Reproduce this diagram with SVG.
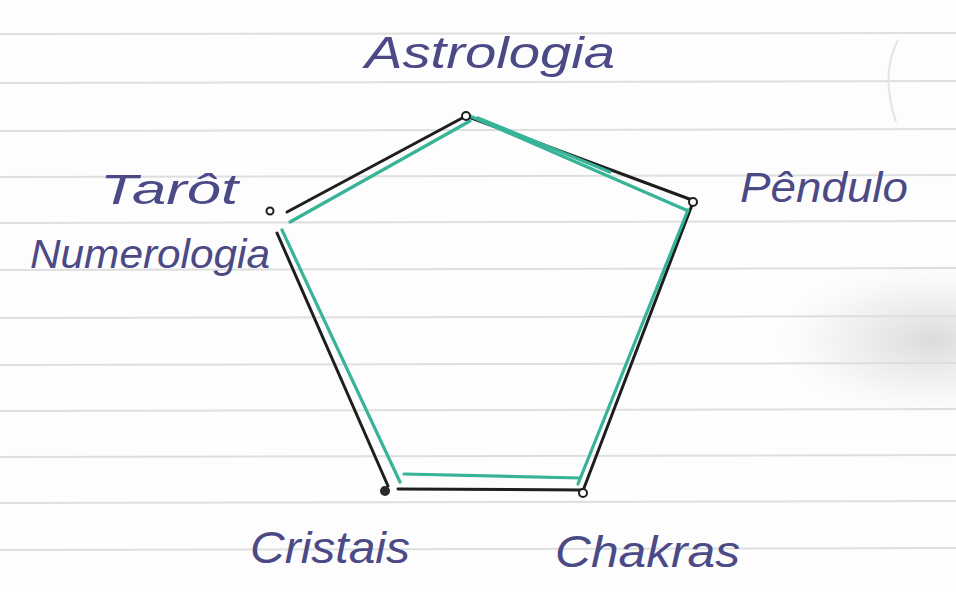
<svg xmlns="http://www.w3.org/2000/svg" width="956" height="592" viewBox="0 0 956 592">
<defs>
<radialGradient id="shade" cx="0.5" cy="0.5" r="0.5">
<stop offset="0" stop-color="#c4c4c4" stop-opacity="0.6"/>
<stop offset="0.6" stop-color="#d8d8d8" stop-opacity="0.3"/>
<stop offset="1" stop-color="#e8e8e8" stop-opacity="0"/>
</radialGradient>
<style>
.rule{stroke:#dedede;stroke-width:2}
.lbl{font-family:"Liberation Sans","DejaVu Sans",sans-serif;fill:#4b4a86;font-style:italic}
.blk{stroke:#1e1e1e;stroke-width:3;fill:none;stroke-linecap:round}
.grn{stroke:#37b397;stroke-width:3.2;fill:none;stroke-linecap:round}
.dot{fill:#fff;stroke:#1e1e1e;stroke-width:2}
</style>
</defs>
<rect width="956" height="592" fill="#fdfdfd"/>
<ellipse cx="930" cy="340" rx="150" ry="75" fill="url(#shade)"/>
<g id="paper">
<line class="rule" x1="0" y1="34" x2="956" y2="33"/>
<line class="rule" x1="0" y1="83" x2="956" y2="81"/>
<line class="rule" x1="0" y1="131" x2="956" y2="129"/>
<line class="rule" x1="0" y1="177" x2="956" y2="175"/>
<line class="rule" x1="0" y1="223" x2="956" y2="221"/>
<line class="rule" x1="0" y1="270" x2="956" y2="268"/>
<line class="rule" x1="0" y1="318" x2="956" y2="316"/>
<line class="rule" x1="0" y1="365" x2="956" y2="363"/>
<line class="rule" x1="0" y1="411" x2="956" y2="409"/>
<line class="rule" x1="0" y1="457" x2="956" y2="455"/>
<line class="rule" x1="0" y1="503" x2="956" y2="501"/>
<line class="rule" x1="0" y1="550" x2="956" y2="548"/>
<path d="M898 40 Q880 75 896 122" stroke="#e4e4e4" stroke-width="2" fill="none"/>
</g>
<g id="connectors">
<path class="blk" d="M466 116 L287 212"/>
<path class="blk" d="M466 116 L692 200"/>
<path class="blk" d="M692 205 L584 488"/>
<path class="blk" d="M584 490 L398 489"/>
<path class="blk" d="M277 233 L388 486"/>
<path class="grn" d="M470 121 L290 222"/>
<path class="grn" d="M470 116 L686 210"/>
<path class="grn" d="M478 118 L610 172"/>
<path class="grn" d="M688 210 L578 484"/>
<path class="grn" d="M580 478 L404 474"/>
<path class="grn" d="M282 230 L400 482"/>
</g>
<g id="astrologia">
<circle class="dot" cx="466" cy="116" r="4"/>
<text class="lbl" x="365" y="68" font-size="44" textLength="250" lengthAdjust="spacingAndGlyphs">Astrologia</text>
</g>
<g id="pendulo">
<circle class="dot" cx="693" cy="202" r="4"/>
<text class="lbl" x="740" y="202" font-size="42" textLength="168" lengthAdjust="spacingAndGlyphs">Pêndulo</text>
</g>
<g id="tarot-numerologia">
<circle class="dot" cx="270" cy="211" r="3.5"/>
<text class="lbl" x="100" y="204" font-size="42" fill="#505068" textLength="138" lengthAdjust="spacingAndGlyphs">Tarôt</text>
<text class="lbl" x="30" y="268" font-size="40" textLength="240" lengthAdjust="spacingAndGlyphs">Numerologia</text>
</g>
<g id="cristais">
<circle cx="385" cy="491" r="5" fill="#2a2a2a"/>
<text class="lbl" x="250" y="563" font-size="44" fill="#3e3d63" textLength="160" lengthAdjust="spacingAndGlyphs">Cristais</text>
</g>
<g id="chakras">
<circle class="dot" cx="583" cy="493" r="4"/>
<text class="lbl" x="555" y="567" font-size="44" textLength="185" lengthAdjust="spacingAndGlyphs">Chakras</text>
</g>
</svg>
